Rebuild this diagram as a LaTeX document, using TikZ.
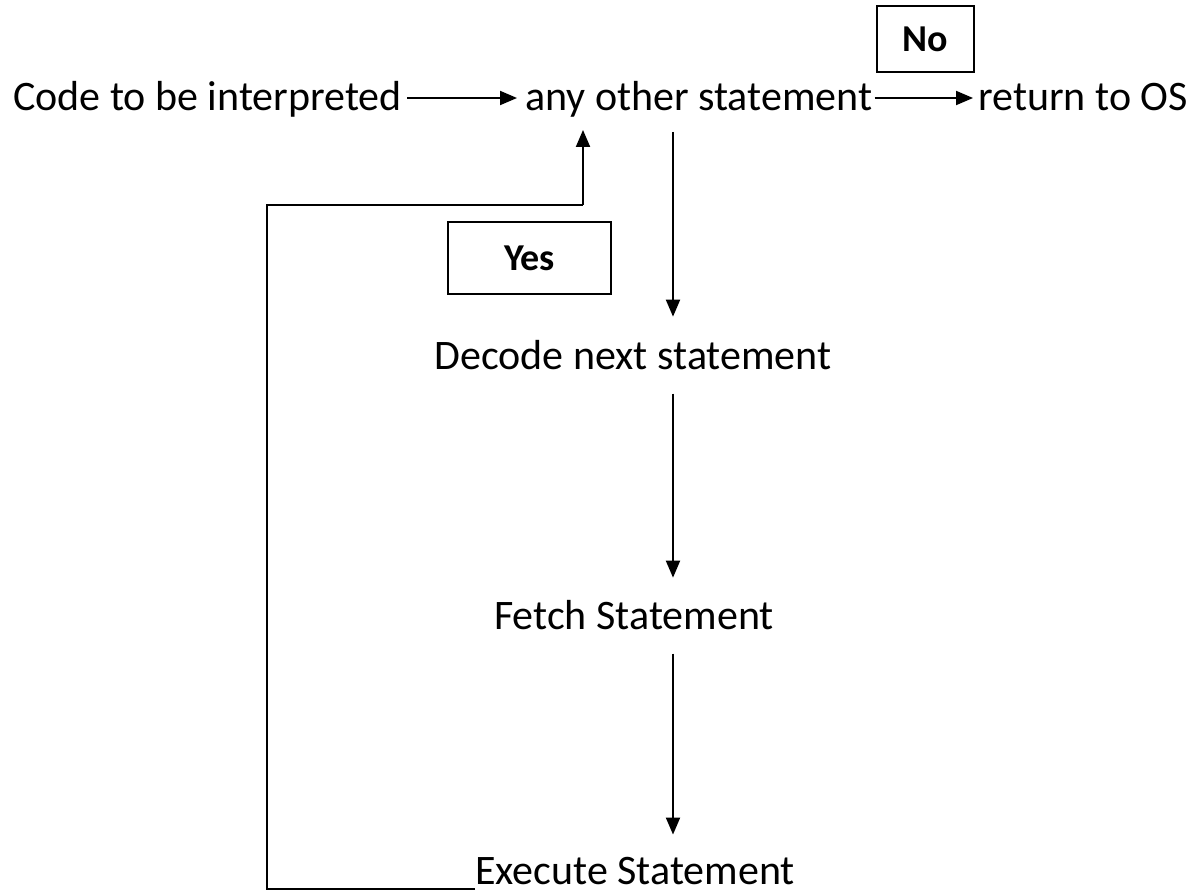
\documentclass[tikz,border=0pt]{standalone}
\usepackage{fontspec}
\setmainfont{Carlito}
\usetikzlibrary{arrows.meta}
\begin{document}
\begin{tikzpicture}[x=1pt,y=-1pt,
  lbl/.style={inner sep=0pt,font=\fontsize{42}{48}\selectfont},
  tag/.style={draw,line width=1.6pt,inner sep=0pt,font=\bfseries\fontsize{38}{44}\selectfont},
  arr/.style={line width=2pt,-{Triangle[length=17pt,width=14pt]}},
  ln/.style={line width=2pt}]
\useasboundingbox (0,0) rectangle (1201,894);
\node[lbl,anchor=base west] (code) at (13,110) {Code to be interpreted};
\node[lbl,anchor=base west] (any) at (525,110) {any other statement};
\node[lbl,anchor=base west] (ret) at (978,110) {return to OS};
\node[lbl,anchor=base] (decode) at (633,369) {Decode next statement};
\node[lbl,anchor=base] (fetch) at (634,629) {Fetch Statement};
\node[lbl,anchor=base] (exec) at (635,884) {Execute Statement};
\node[tag,minimum width=97pt,minimum height=66pt] (no) at (925.5,39) {No};
\node[tag,minimum width=163pt,minimum height=72pt] (yes) at (529.5,258) {Yes};
\coordinate (row) at (0,98);
\coordinate (col) at (673,0);
\coordinate (fb) at (583,0);
\coordinate (lx) at (267,0);
\coordinate (ly) at (0,205);
\coordinate (bot) at (0,889);
\draw[arr,shorten <=5pt,shorten >=8pt] (code.east |- row) -- (any.west |- row);
\draw[arr,shorten <=2pt,shorten >=5pt] (any.east |- row) -- (ret.west |- row);
\draw[arr,shorten <=15pt,shorten >=23pt] (any.south -| col) -- (decode.north -| col);
\draw[arr,shorten <=24pt,shorten >=22pt] (decode.south -| col) -- (fetch.north -| col);
\draw[arr,shorten <=24pt,shorten >=22pt] (fetch.south -| col) -- (exec.north -| col);
\draw[ln] (exec.west |- bot) -- (lx |- bot) -- (lx |- ly) -- (fb |- ly);
\draw[arr,shorten >=13pt] (fb |- ly) -- (any.south -| fb);
\end{tikzpicture}
\end{document}
